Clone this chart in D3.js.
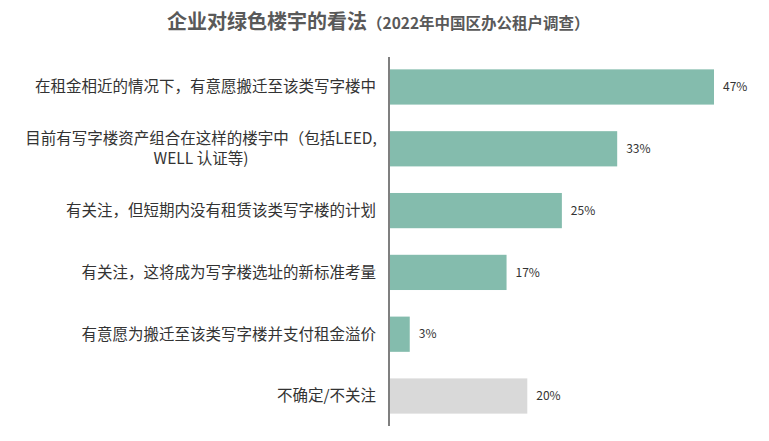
<!DOCTYPE html>
<html lang="zh">
<head>
    <meta charset="UTF-8">
    <title>企业对绿色楼宇的看法</title>
    <script src="https://d3js.org/d3.v7.min.js"></script>
    <style>
        body { margin: 0; background: #fff; }
        text { font-family: "Noto Sans CJK SC", "Noto Sans", sans-serif; }
    </style>
</head>
<body>
    <script>
        let categories = [
            ["在租金相近的情况下，有意愿搬迁至该类写字楼中"],
            ["目前有写字楼资产组合在这样的楼宇中（包括LEED,", "WELL 认证等)"],
            ["有关注，但短期内没有租赁该类写字楼的计划"],
            ["有关注，这将成为写字楼选址的新标准考量"],
            ["有意愿为搬迁至该类写字楼并支付租金溢价"],
            ["不确定/不关注"]
        ];
        let values = [47, 33, 25, 17, 3, 20];
        let isNeutral = [false, false, false, false, false, true];

        let width = 769;
        let height = 441;
        let axisX = 389;

        let svg = d3.select('body').append('svg')
            .attr('width', width)
            .attr('height', height);

        let x = d3.scaleLinear()
            .domain([0, 47])
            .range([axisX, 714]);

        let y = d3.scaleBand()
            .domain(d3.range(values.length))
            .range([57, 426])
            .paddingInner(0.43)
            .paddingOuter(0.2);

        // title
        let title = svg.append('text')
            .attr('x', 167)
            .attr('y', 29)
            .style('fill', '#595959')
            .style('font-weight', 'bold');
        title.append('tspan').text('企业对绿色楼宇的看法').style('font-size', '20px');
        title.append('tspan').text('（2022年中国区办公租户调查）').style('font-size', '15.5px');

        svg.selectAll('rect.bar').data(values)
            .enter().append('rect')
            .attr('class', 'bar')
            .attr('x', x(0))
            .attr('y', (d, i) => y(i))
            .attr('width', d => x(d) - x(0))
            .attr('height', y.bandwidth())
            .style('fill', (d, i) => isNeutral[i] ? '#d9d9d9' : '#84bcad');

        svg.selectAll('text.val').data(values)
            .enter().append('text')
            .attr('class', 'val')
            .attr('x', d => x(d) + 9)
            .attr('y', (d, i) => y(i) + y.bandwidth() / 2)
            .attr('dy', '0.35em')
            .style('font-size', '12px')
            .style('fill', '#333')
            .text(d => d + '%');

        let labels = svg.selectAll('text.cat').data(categories)
            .enter().append('text')
            .attr('class', 'cat')
            .attr('y', (d, i) => y(i) + y.bandwidth() / 2)
            .style('font-size', '15.5px')
            .style('fill', '#333');
        labels.each(function(d) {
            let t = d3.select(this);
            d.forEach((line, j) => {
                t.append('tspan')
                    .attr('x', d.length > 1 ? 201 : 376)
                    .attr('text-anchor', d.length > 1 ? 'middle' : 'end')
                    .attr('dy', j === 0 ? (0.35 - (d.length - 1) * 0.65) + 'em' : '1.3em')
                    .text(line);
            });
        });

        svg.append('line')
            .attr('x1', axisX).attr('x2', axisX)
            .attr('y1', 57).attr('y2', 426)
            .style('stroke', '#7f7f7f')
            .style('stroke-width', 2);
    </script>
</body>
</html>
